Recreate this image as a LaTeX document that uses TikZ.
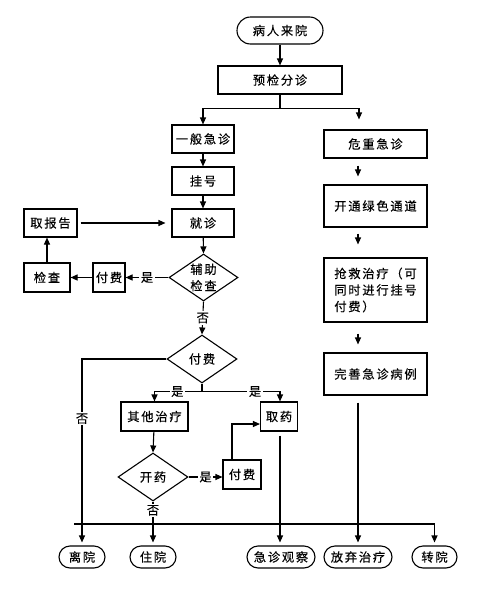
\documentclass[tikz,border=0pt]{standalone}
\usepackage{fontspec}
\setmainfont{Noto Sans CJK SC}[LetterSpace=14, FakeBold=0.3]
\usetikzlibrary{arrows.meta,shapes.geometric}
\newcommand{\fz}{\fontsize{12.3}{16.5}\selectfont}
\begin{document}
\begin{tikzpicture}[x=1pt,y=-1pt,
  every node/.style={font=\fz, inner sep=0pt},
  box/.style={draw, line width=1.1pt, minimum height=28pt},
  term/.style={draw, line width=1.1pt, rounded corners=11pt, minimum height=22pt},
  dia/.style={draw, diamond, line width=1.1pt, minimum width=70pt, minimum height=48pt},
  arr/.style={line width=1.1pt, -{Triangle[length=7pt,width=6pt]}},
  ln/.style={line width=1.1pt},
  lab/.style={fill=white, inner sep=1.5pt}]
\useasboundingbox[fill=white] (0,0) rectangle (480,600);
% nodes
\node[term, rounded corners=13.5pt, minimum width=86pt, minimum height=27pt] (start) at (280,30.5) {病人来院};
\node[box, minimum width=124pt] (triage) at (280,80) {预检分诊};
\node[box, minimum width=62pt] (gen) at (203,139) {一般急诊};
\node[box, minimum width=103pt] (crit) at (375.5,144) {危重急诊};
\node[box, minimum width=62pt] (reg) at (203,181) {挂号};
\node[box, minimum width=62pt] (see) at (203,223) {就诊};
\node[box, minimum width=53pt] (report) at (50.5,223) {取报告};
\node[dia, minimum width=69pt, minimum height=47pt] (aux) at (203.5,277.5) {};
\node[align=center] (auxt) at (aux) {辅助\\检查};
\node[box, minimum width=32pt, minimum height=29pt] (pay1) at (109,277.5) {付费};
\node[box, minimum width=46pt, minimum height=29pt] (check) at (47,277.5) {检查};
\node[box, minimum width=103pt, minimum height=42pt] (open) at (375.5,206) {开通绿色通道};
\node[box, minimum width=103pt, minimum height=64pt, align=left] (rescue) at (375.5,290) {抢救治疗（可\\同时进行挂号\\付费）};
\node[box, minimum width=103pt, minimum height=42pt] (perfect) at (375.5,374) {完善急诊病例};
\node[dia] (paydia) at (202,359) {};
\node (paydiat) at (paydia) {付费};
\node[box, minimum width=67pt, minimum height=29pt] (other) at (154.5,416.5) {其他治疗};
\node[box, minimum width=37pt, minimum height=29pt] (med) at (279,416.5) {取药};
\node[dia] (kaiyao) at (153,477) {};
\node (kaiyaot) at (kaiyao) {开药};
\node[box, minimum width=38pt, minimum height=29pt] (pay2) at (242,474.5) {付费};
\node[term, minimum width=46pt] (leave) at (82,557) {离院};
\node[term, minimum width=46pt] (hosp) at (153,557) {住院};
\node[term, minimum width=68pt] (obs) at (281,557) {急诊观察};
\node[term, minimum width=68pt] (abandon) at (358,557) {放弃治疗};
\node[term, minimum width=45pt] (transfer) at (434.5,557) {转院};
\coordinate (bar) at (74,524);
% connectors
\draw[arr] (start) -- (triage);
\draw[ln] (triage.south) -- ++(0,14) coordinate (split);
\draw[arr] (split) -| (gen.north);
\draw[arr] (split) -| ([xshift=-16.5pt,yshift=10pt]crit.north);
\draw[arr] ([xshift=-17.5pt,yshift=-7pt]crit.south) -- ([xshift=-17.5pt,yshift=8pt]open.north);
\draw[arr] ([xshift=-17.5pt,yshift=-6pt]open.south) -- ([xshift=-17.5pt,yshift=13pt]rescue.north);
\draw[arr] ([xshift=-17.5pt,yshift=-11pt]rescue.south) -- ([xshift=-17.5pt,yshift=8pt]perfect.north);
\draw[arr] ([xshift=-17.5pt,yshift=-7pt]perfect.south) -- ([yshift=3pt]abandon.north);
\draw[arr] (gen) -- (reg);
\draw[arr] (reg) -- (see);
\draw[arr] (see) -- (aux.north);
\draw[arr, shorten <=3pt, shorten >=6pt] (report) -- (see);
\draw[arr] (aux.west) -- node[lab]{是} (pay1.east);
\draw[arr] (pay1) -- (check);
\draw[arr] (check.north) -- (check.north |- report.south);
\draw[arr] (aux.south) -- node[lab]{否} (paydia.north);
\draw[arr, shorten >=3pt] (paydia.west) -| node[lab, pos=0.66]{否} (leave.north);
\draw[ln] (paydia.south) -- ++(0,8) coordinate (fork);
\draw[arr] (fork) -| node[lab, pos=0.26]{是} (other.north);
\draw[arr] (fork) -| node[lab, pos=0.34]{是} ([xshift=1pt]med.north);
\draw[arr] (other) -- (kaiyao.north);
\draw[arr] (kaiyao.east) -- node[lab]{是} (kaiyao.east -| pay2.west);
\draw[arr] ([xshift=-10pt]pay2.north) |- ([yshift=-7.5pt]med.west);
\draw[ln] (bar) -| ([yshift=15pt]transfer.north);
\draw[arr, shorten >=3pt] (kaiyao.south) -- node[lab, pos=0.2]{否} (hosp.north);
\draw[arr, shorten >=3pt] ([xshift=1pt,yshift=-4pt]med.south) -- ([xshift=1pt]med.south |- obs.north);
\draw[arr, shorten >=3pt] ([yshift=15pt]transfer.north) -- (transfer.north);
\end{tikzpicture}
\end{document}
